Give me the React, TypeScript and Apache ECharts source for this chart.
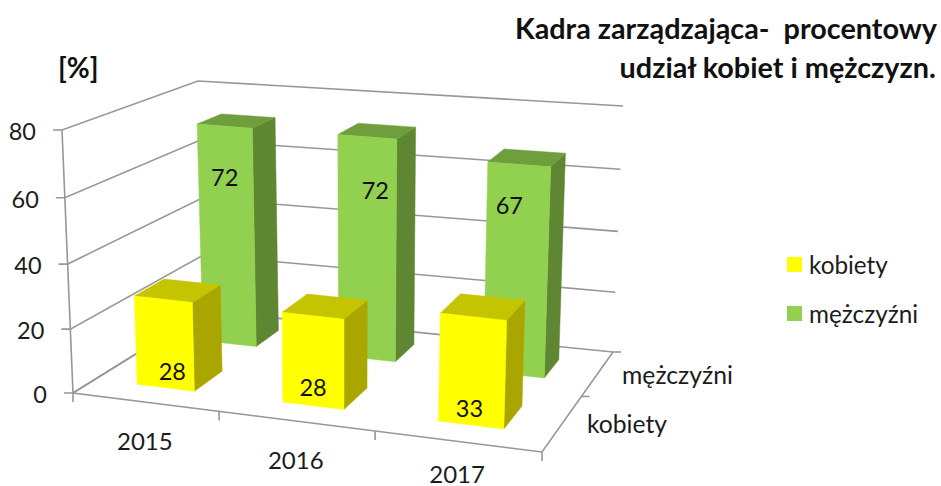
import React, { useEffect, useRef } from "react";
import * as echarts from "echarts";

const titleLines = ["Kadra zarządzająca-  procentowy", "udział kobiet i mężczyzn."];
const unitLabel = "[%]";
const categories = ["2015", "2016", "2017"];
const depthNames = ["kobiety", "mężczyźni"];
const yTicks = [0, 20, 40, 60, 80];
const womenValues = [28, 28, 33];
const menValues = [72, 72, 67];

const FONT = "Lato, 'Noto Sans', sans-serif";
const TEXT = "#1c1c1c";
const GRID_LINE = "#979797";
const WOMEN = { front: "#ffff00", top: "#c4c400", side: "#aaa600" };
const MEN = { front: "#92d050", top: "#6e9f3c", side: "#5f8633" };

// Eight corners of the drawn box, in pixels: [width, depth, height] in 0..1
const CORNERS = {
  A0: [73, 393], C0: [542, 452], B0: [205, 311], D0: [613, 352],
  A1: [62, 130], C1: [551, 176], B1: [198, 81], D1: [623, 106],
};
const warp = (t: number, r: number) => t / (t + r * (1 - t));
const mix = (a: number[], b: number[], t: number) => [a[0] + (b[0] - a[0]) * t, a[1] + (b[1] - a[1]) * t];
function project(u: number, d: number, h: number) {
  const tu = warp(u, 1.105), td = warp(d, 0.8), th = warp(h, 1.04);
  const c = CORNERS;
  const low = mix(mix(c.A0, c.C0, tu), mix(c.B0, c.D0, tu), td);
  const high = mix(mix(c.A1, c.C1, tu), mix(c.B1, c.D1, tu), td);
  return mix(low, high, th);
}

const GRID = { left: 73, top: 130, width: 469, height: 263 };
const BAR_HALF = 0.2; // of one category band
const DEPTH_SPAN = [0.28, 0.7]; // of one depth band
const valueLabelNudge = [
  [[9, -17], [0, -19], [-4, -17]],
  [[0, 51], [8, 53], [-10, 41]],
];

function unit(api: any, params: any, cat: number, val: number) {
  const p = api.coord([cat, val]);
  const r = params.coordSys;
  return [(p[0] - r.x) / r.width, (r.y + r.height - p[1]) / r.height];
}

function barSeries(name: string, values: number[], depthIndex: number, col: any) {
  return {
    name,
    type: "custom",
    coordinateSystem: "cartesian2d",
    clip: false,
    silent: true,
    itemStyle: { color: col.front },
    encode: { x: 0, y: 1 },
    data: values.map((v, i) => [i, v]),
    renderItem(params: any, api: any) {
      const cat = api.value(0), val = api.value(1);
      const [uc, h] = unit(api, params, cat, val);
      const half = (api.size([1, 0])[0] / params.coordSys.width) * BAR_HALF;
      const u0 = uc - half, u1 = uc + half;
      const d0 = (depthIndex + DEPTH_SPAN[0]) / depthNames.length;
      const d1 = (depthIndex + DEPTH_SPAN[1]) / depthNames.length;
      const poly = (pts: number[][], fill: string) => ({
        type: "polygon",
        shape: { points: pts },
        style: { fill, stroke: fill, lineWidth: 0.5 },
      });
      const fl = project(u0, d0, 0), fr = project(u1, d0, 0), br = project(u1, d1, 0);
      const tl = project(u0, d0, h), tr = project(u1, d0, h), btr = project(u1, d1, h), btl = project(u0, d1, h);
      const nudge = valueLabelNudge[depthIndex][cat];
      const anchorY = depthIndex === 0 ? (fl[1] + fr[1]) / 2 : (tl[1] + tr[1]) / 2;
      const anchorX = (tl[0] + tr[0]) / 2;
      return {
        type: "group",
        children: [
          poly([fr, br, btr, tr], col.side),
          poly([tl, tr, btr, btl], col.top),
          poly([fl, fr, tr, tl], col.front),
          {
            type: "text",
            style: {
              text: String(val),
              x: anchorX + nudge[0],
              y: anchorY + nudge[1],
              fill: "#111",
              font: `23.5px ${FONT}`,
              align: "center",
              verticalAlign: "middle",
            },
          },
        ],
      };
    },
  };
}

const wallSeries = {
  type: "custom",
  coordinateSystem: "cartesian2d",
  clip: false,
  silent: true,
  encode: { x: 0, y: 1 },
  data: yTicks.map((v) => [0, v]),
  renderItem(params: any, api: any) {
    const v = api.value(1);
    const [, h] = unit(api, params, 0, v);
    const a = project(0, 0, h), b = project(0, 1, h), c = project(1, 1, h);
    const line = { stroke: GRID_LINE, lineWidth: 1.6, fill: "none" };
    return {
      type: "group",
      children: [
        { type: "polyline", shape: { points: [[a[0] - 9, a[1]], a, b, c] }, style: line },
        {
          type: "text",
          style: {
            text: String(v),
            x: a[0] - 26,
            y: a[1] + 1,
            fill: TEXT,
            font: `23.5px ${FONT}`,
            align: "right",
            verticalAlign: "middle",
          },
        },
      ],
    };
  },
};

const frameLine = { stroke: GRID_LINE, lineWidth: 1.6, fill: "none" };
const edgeSeries = {
  type: "custom",
  coordinateSystem: "cartesian2d",
  clip: false,
  silent: true,
  encode: { x: 0, y: 1 },
  data: [[0, 80]],
  renderItem() {
    const corner = (u: number, d: number, h: number) => project(u, d, h);
    return {
      type: "group",
      children: [
        { type: "polyline", shape: { points: [corner(0, 0, 1), corner(0, 0, 0), corner(1, 0, 0), corner(1, 1, 0)] }, style: frameLine },
        { type: "polyline", shape: { points: [corner(0, 0, 0), corner(0, 1, 0)] }, style: frameLine },
      ],
    };
  },
};
const backFloorSeries = {
  type: "custom",
  coordinateSystem: "cartesian2d",
  clip: false,
  silent: true,
  encode: { x: 0, y: 1 },
  data: categories.map((_, i) => [i, 0]),
  renderItem(params: any, api: any) {
    const cat = api.value(0);
    const [uc] = unit(api, params, cat, 0);
    const band = api.size([1, 0])[0] / params.coordSys.width;
    const tickAt = project(uc + band / 2, 0, 0);
    const labelAt = project(uc, 0, 0);
    const kids: any[] = [
      { type: "line", shape: { x1: tickAt[0], y1: tickAt[1], x2: tickAt[0], y2: tickAt[1] + 9 }, style: frameLine },
      {
        type: "text",
        style: {
          text: categories[cat],
          x: labelAt[0],
          y: Math.min(labelAt[1] + 38, 473),
          fill: TEXT,
          font: `24px ${FONT}`,
          align: "center",
          verticalAlign: "middle",
        },
      },
    ];
    if (cat === 0) {
      const o = project(0, 0, 0);
      kids.push({ type: "line", shape: { x1: o[0], y1: o[1], x2: o[0], y2: o[1] + 9 }, style: frameLine });
    }
    return { type: "group", children: kids };
  },
};
const depthAxisSeries = {
  type: "custom",
  coordinateSystem: "cartesian2d",
  clip: false,
  silent: true,
  encode: { x: 0, y: 1 },
  data: depthNames.map((_, i) => [2, i]),
  renderItem(_p: any, api: any) {
    const i = api.value(1);
    const n = depthNames.length;
    const tick = project(1, (i + 1) / n, 0);
    const mid = project(1, (i + 0.5) / n, 0);
    return {
      type: "group",
      children: [
        { type: "line", shape: { x1: tick[0], y1: tick[1], x2: tick[0] + 8, y2: tick[1] }, style: frameLine },
        {
          type: "text",
          style: {
            text: depthNames[i],
            x: mid[0] + 24,
            y: mid[1] + 1,
            fill: TEXT,
            font: `24.7px ${FONT}`,
            align: "left",
            verticalAlign: "middle",
          },
        },
      ],
    };
  },
};

const titleStyle = { fontFamily: FONT, fontWeight: "bold", fontSize: 28.8, lineHeight: 39, color: "#111" };

export default function App() {
  const ref = useRef<HTMLDivElement>(null);
  useEffect(() => {
    const chart = echarts.init(ref.current!, undefined, { renderer: "svg" });
    chart.setOption({
      animation: false,
      backgroundColor: "#ffffff",
      title: [
        { text: titleLines[0], right: 0, top: 3, padding: [5, 4, 5, 5], textStyle: titleStyle },
        { text: titleLines[1], right: 0, top: 42, padding: [5, 4, 5, 5], textStyle: titleStyle },
      ],
      graphic: [
        {
          type: "text",
          x: 58,
          y: 53,
          style: { text: unitLabel, fill: "#111", font: `bold 28px ${FONT}` },
        },
      ],
      legend: {
        orient: "vertical",
        left: 782,
        top: 246,
        itemWidth: 15,
        itemHeight: 15,
        itemGap: 22,
        icon: "rect",
        selectedMode: false,
        data: depthNames,
        textStyle: { fontFamily: FONT, fontSize: 24.3, color: TEXT, lineHeight: 27, padding: [0, 0, 0, 2] },
      },
      grid: GRID,
      xAxis: { type: "category", data: categories, show: false },
      yAxis: { type: "value", min: 0, max: 80, interval: 20, show: false },
      series: [
        wallSeries,
        edgeSeries,
        backFloorSeries,
        depthAxisSeries,
        barSeries(depthNames[1], menValues, 1, MEN),
        barSeries(depthNames[0], womenValues, 0, WOMEN),
      ],
    });
    return () => chart.dispose();
  }, []);
  return <div ref={ref} style={{ position: "fixed", left: 0, top: 0, width: 941, height: 486 }} />;
}
